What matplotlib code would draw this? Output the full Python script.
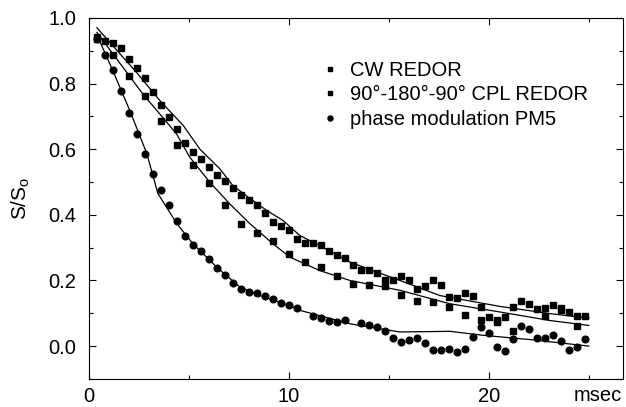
import numpy as np
import matplotlib
matplotlib.use("Agg")
import matplotlib.pyplot as plt
from matplotlib.ticker import MultipleLocator

plt.rcParams['font.family'] = ['Liberation Sans', 'DejaVu Sans']
plt.rcParams['mathtext.fontset'] = 'custom'
plt.rcParams['mathtext.rm'] = 'Liberation Sans'

# measured points (time in msec, S/S0)
cw_t = [0.4, 0.8, 1.2, 1.6, 2.0, 2.4, 2.8, 3.2, 3.6, 4.0, 4.4, 4.8, 5.2, 5.6,
        6.0, 6.4, 6.8, 7.2, 7.6, 8.0, 8.4, 8.8, 9.2, 9.6, 10.0, 10.4, 10.8,
        11.2, 11.6, 12.0, 12.4, 12.8, 13.2, 13.6, 14.0, 14.4, 14.8, 15.2,
        15.6, 16.0, 16.4, 16.8, 17.2, 17.6, 18.0, 18.4, 18.8, 19.2, 19.6,
        20.0, 20.4, 20.8, 21.2, 21.6, 22.0, 22.4, 22.8, 23.2, 23.6, 24.0,
        24.4, 24.8]
cw_s = [0.943, 0.931, 0.925, 0.907, 0.875, 0.847, 0.816, 0.775, 0.735, 0.699,
        0.661, 0.618, 0.591, 0.570, 0.545, 0.522, 0.504, 0.482, 0.459, 0.446,
        0.430, 0.406, 0.378, 0.367, 0.354, 0.327, 0.314, 0.315, 0.309, 0.289,
        0.279, 0.269, 0.248, 0.233, 0.233, 0.222, 0.200, 0.202, 0.214, 0.202,
        0.174, 0.182, 0.202, 0.187, 0.151, 0.146, 0.161, 0.152, 0.119, 0.088,
        0.080, 0.088, 0.119, 0.137, 0.129, 0.114, 0.116, 0.124, 0.116, 0.104,
        0.093, 0.093]

cpl_t = [0.4, 1.2, 2.0, 2.8, 3.6, 4.4, 5.2, 6.0, 6.8, 7.6, 8.4, 9.2, 10.0,
         10.8, 11.6, 12.4, 13.2, 14.0, 14.8, 15.6, 16.4, 17.2, 18.0, 18.8,
         19.6, 20.4, 21.2, 22.8, 23.6, 24.4]
cpl_s = [0.935, 0.888, 0.824, 0.761, 0.687, 0.613, 0.552, 0.496, 0.430, 0.373,
         0.344, 0.320, 0.281, 0.256, 0.240, 0.213, 0.189, 0.185, 0.182, 0.157,
         0.138, 0.134, 0.119, 0.096, 0.080, 0.073, 0.047, 0.093, 0.109, 0.061]

pm_t = [0.4, 0.8, 1.2, 1.6, 2.0, 2.4, 2.8, 3.2, 3.6, 4.0, 4.4, 4.8, 5.2, 5.6,
        6.0, 6.4, 6.8, 7.2, 7.6, 8.0, 8.4, 8.8, 9.2, 9.6, 10.0, 10.4, 11.2,
        11.6, 12.0, 12.4, 12.8, 13.6, 14.0, 14.4, 14.8, 15.2, 15.6, 16.0,
        16.4, 16.8, 17.2, 17.6, 18.0, 18.4, 18.8, 19.2, 19.6, 20.0, 20.4,
        20.8, 21.2, 21.6, 22.0, 22.4, 22.8, 23.2, 23.6, 24.0, 24.4, 24.8]
pm_s = [0.935, 0.888, 0.842, 0.778, 0.709, 0.647, 0.584, 0.525, 0.477, 0.431,
        0.381, 0.335, 0.309, 0.290, 0.266, 0.239, 0.217, 0.193, 0.173, 0.164,
        0.162, 0.154, 0.144, 0.132, 0.124, 0.116, 0.093, 0.085, 0.075, 0.073,
        0.081, 0.071, 0.065, 0.058, 0.047, 0.026, 0.012, 0.018, 0.026, 0.008,
        -0.011, -0.012, -0.009, -0.017, -0.008, 0.029, 0.057, 0.040, -0.003,
        -0.016, 0.022, 0.060, 0.051, 0.026, 0.026, 0.035, 0.017, -0.013,
        -0.003, 0.023]

# simulated curves
cw_fit_t = [0.4, 2.38, 3.55, 4.72, 5.55, 6.55, 7.2, 8.05, 8.9, 9.7, 10.55,
            11.7, 13.05, 15.55, 17.55, 20.55, 23.05, 25.0]
cw_fit_s = [0.970, 0.834, 0.748, 0.672, 0.600, 0.540, 0.489, 0.450, 0.413,
            0.383, 0.337, 0.301, 0.256, 0.200, 0.154, 0.121, 0.099, 0.085]

cpl_fit_t = [0.4, 2.7, 4.38, 5.05, 6.05, 7.05, 8.05, 9.2, 10.05, 11.55, 13.05,
             15.55, 18.05, 20.55, 23.05, 25.0]
cpl_fit_s = [0.956, 0.768, 0.647, 0.575, 0.499, 0.433, 0.373, 0.312, 0.271,
             0.230, 0.200, 0.170, 0.129, 0.104, 0.078, 0.063]

pm_fit_t = [0.47, 1.2, 2.05, 2.9, 3.45, 4.4, 5.2, 6.4, 7.55, 8.55, 10.2, 10.55,
            13.05, 15.55, 18.05, 19.7, 22.2, 25.0]
pm_fit_s = [0.939, 0.839, 0.717, 0.586, 0.465, 0.373, 0.312, 0.240, 0.180,
            0.154, 0.119, 0.109, 0.068, 0.043, 0.045, 0.033, 0.019, 0.0]

labels = ['CW REDOR', '90\u00b0-180\u00b0-90\u00b0 CPL REDOR', 'phase modulation PM5']

fig = plt.figure(figsize=(6.26, 4.07), dpi=100)
ax = fig.add_axes([0.142, 0.069, 0.853, 0.887])

for t, s in [(cw_fit_t, cw_fit_s), (cpl_fit_t, cpl_fit_s), (pm_fit_t, pm_fit_s)]:
    ax.plot(t, s, color='black', lw=0.9)

ax.plot(cw_t, cw_s, 's', color='black', ms=4.7, label=labels[0])
ax.plot(cpl_t, cpl_s, 's', color='black', ms=4.7, label=labels[1])
ax.plot(pm_t, pm_s, 'o', color='black', ms=4.8, label=labels[2])

ax.set_xlim(0, 26.7)
ax.set_ylim(-0.1, 1.0)
ax.xaxis.set_major_locator(MultipleLocator(10))
ax.xaxis.set_minor_locator(MultipleLocator(5))
ax.yaxis.set_major_locator(MultipleLocator(0.2))
ax.yaxis.set_minor_locator(MultipleLocator(0.1))
ax.set_yticks([0.0, 0.2, 0.4, 0.6, 0.8, 1.0])
ax.set_yticklabels(['0.0', '0.2', '0.4', '0.6', '0.8', '1.0'])
ax.tick_params(which='both', direction='in', top=True, right=True,
               labelsize=14.5, width=0.8)
ax.tick_params(which='major', length=5)
ax.tick_params(axis='y', which='major', pad=9)
ax.tick_params(axis='x', which='major', pad=6)
ax.tick_params(which='minor', length=3)
for sp in ax.spines.values():
    sp.set_linewidth(0.8)

ax.set_ylabel('S/S$_\\mathregular{o}$', fontsize=15, labelpad=12)
fig.text(0.994, 0.004, 'msec', ha='right', va='bottom', fontsize=14.5)

ax.legend(loc='upper left', bbox_to_anchor=(0.406, 0.932), frameon=False,
          fontsize=14.5, handlelength=0.6, handletextpad=0.7, labelspacing=0.28,
          markerscale=0.75)

fig.savefig('out.png', dpi=100)
